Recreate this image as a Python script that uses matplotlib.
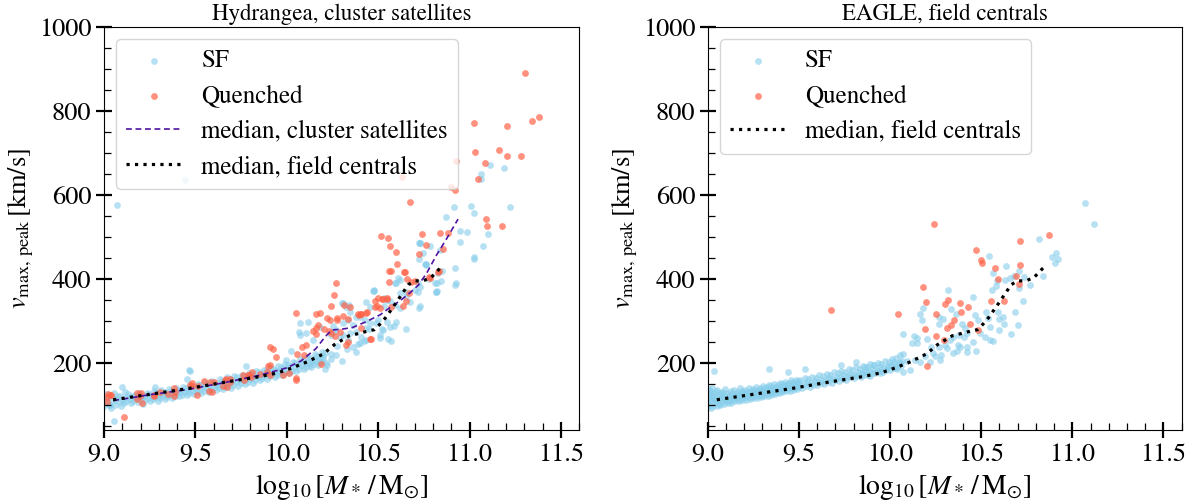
import matplotlib
matplotlib.use("Agg")
import matplotlib.pyplot as plt
from matplotlib.ticker import MultipleLocator

plt.rcParams['font.family'] = 'serif'
plt.rcParams['font.serif'] = ['STIXGeneral', 'Liberation Serif', 'DejaVu Serif']
plt.rcParams['mathtext.fontset'] = 'stix'

# ---------------- data: Hydrangea (left) ----------------
left_band_x = [
    9.000, 9.007, 9.013, 9.020, 9.027, 9.033, 9.040, 9.047, 9.053, 9.060, 9.067, 9.073,
    9.080, 9.087, 9.093, 9.100, 9.107, 9.113, 9.120, 9.127, 9.133, 9.140, 9.147, 9.153,
    9.160, 9.167, 9.173, 9.180, 9.187, 9.193, 9.200, 9.207, 9.213, 9.220, 9.227, 9.233,
    9.240, 9.247, 9.253, 9.260, 9.267, 9.273, 9.280, 9.287, 9.293, 9.300, 9.307, 9.313,
    9.320, 9.327, 9.333, 9.340, 9.347, 9.353, 9.360, 9.367, 9.373, 9.380, 9.387, 9.393,
    9.400, 9.407, 9.413, 9.420, 9.427, 9.433, 9.440, 9.447, 9.453, 9.460, 9.467, 9.473,
    9.480, 9.487, 9.493, 9.500, 9.507, 9.513, 9.520, 9.527, 9.533, 9.540, 9.547, 9.553,
    9.560, 9.567, 9.573, 9.580, 9.587, 9.593, 9.600, 9.607, 9.613, 9.620, 9.627, 9.633,
    9.640, 9.647, 9.653, 9.660, 9.667, 9.673, 9.680, 9.687, 9.693, 9.700, 9.707, 9.713,
    9.720, 9.727, 9.733, 9.740, 9.747, 9.753, 9.760, 9.767, 9.773, 9.780, 9.787, 9.793,
    9.800, 9.807, 9.813, 9.820, 9.827, 9.833, 9.840, 9.847, 9.853, 9.860, 9.867, 9.873,
    9.880, 9.887, 9.893, 9.900, 9.907, 9.913, 9.920, 9.927, 9.933, 9.940, 9.947, 9.953,
    9.960, 9.967, 9.973, 9.980, 9.987, 9.993, 10.000, 10.007, 10.013, 10.020, 10.027, 10.033,
    10.040, 10.047, 10.053, 10.060, 10.067, 10.073, 10.080, 10.087, 10.093, 10.100, 10.107, 10.113,
    10.120, 10.127, 10.133, 10.140, 10.147, 10.153, 10.160, 10.167, 10.173, 10.180, 10.187, 10.193,
    10.200, 10.207, 10.213]
left_band_y = [
    96, 112, 125, 104, 118, 99, 92, 110, 128, 100, 115, 121,
    106, 120, 96, 112, 104, 130, 108, 118, 125, 115, 105, 122,
    110, 124, 117, 118, 107, 128, 113, 121, 102, 120, 111, 129,
    116, 125, 108, 122, 113, 132, 119, 127, 110, 124, 116, 135,
    121, 130, 114, 127, 118, 137, 124, 133, 117, 130, 121, 140,
    127, 136, 120, 133, 124, 143, 130, 139, 123, 136, 127, 147,
    133, 142, 125, 139, 130, 150, 136, 146, 128, 142, 133, 154,
    139, 149, 131, 145, 136, 157, 142, 153, 135, 148, 139, 161,
    146, 157, 138, 152, 143, 165, 150, 161, 141, 156, 147, 168,
    154, 165, 145, 160, 151, 172, 158, 169, 149, 164, 155, 176,
    162, 173, 153, 168, 159, 180, 166, 177, 158, 172, 163, 184,
    170, 181, 162, 176, 168, 188, 175, 185, 166, 181, 172, 192,
    179, 190, 170, 185, 176, 197, 184, 195, 175, 190, 181, 202,
    189, 200, 180, 195, 186, 208, 194, 206, 185, 200, 191, 214,
    199, 211, 190, 205, 196, 220, 204, 217, 195, 211, 202, 226,
    210, 223, 200]

left_sf_x = [
    9.069, 9.444, 9.467, 9.053, 9.027, 9.100, 9.279, 9.453, 9.469, 9.779, 10.070,
    11.112, 11.190, 11.065, 11.060, 10.917, 11.008, 11.223, 11.026, 10.869, 10.950, 10.988,
    11.103, 10.946, 10.723, 11.075, 10.743, 11.022, 10.764, 10.922, 10.849, 10.610, 10.594,
    10.720, 10.810, 10.920, 10.820, 10.474, 10.650, 10.700, 10.307, 10.340,
    11.026, 10.924, 10.819, 10.842, 10.777, 10.830, 10.756, 10.725, 10.730, 10.730, 10.651,
    10.588, 10.572, 10.599, 10.479, 10.500, 10.520, 10.550, 10.452, 10.420, 10.380, 10.390,
    10.327, 10.306, 10.253, 10.274, 10.243, 10.222, 10.210, 10.180, 10.127, 10.148, 10.117,
    10.065, 10.023, 9.997, 10.532, 10.563,
    10.727, 10.782, 10.837, 10.764, 10.596, 10.621, 10.822, 10.727, 10.718, 10.818, 10.475,
    10.530, 10.548, 10.618, 10.654, 10.672, 10.590, 10.618, 10.723, 10.304, 10.326, 10.344,
    10.380, 10.399, 10.426, 10.490, 10.453, 10.435, 10.526, 10.563, 10.508, 10.335, 10.308,
    10.362, 10.253, 10.271, 10.244, 10.289, 10.344, 10.380, 10.408, 10.435, 10.399, 10.362,
    10.335, 10.180, 10.143, 10.107, 10.070, 10.453, 10.435, 10.508, 10.553,
    10.270, 10.300, 10.240, 10.200]
left_sf_y = [
    576, 636, 183, 62, 99, 142, 142, 162, 180, 192, 267,
    671, 663, 649, 638, 572, 573, 572, 557, 546, 514, 512,
    507, 488, 486, 478, 462, 448, 434, 425, 419, 402, 391,
    390, 391, 386, 370, 370, 368, 373, 343, 338,
    451, 389, 369, 395, 399, 413, 434, 446, 486, 336, 281,
    288, 253, 296, 373, 303, 281, 296, 281, 253, 225, 245,
    233, 265, 273, 241, 210, 194, 186, 202, 194, 210, 296,
    273, 229, 207, 336, 348,
    484, 477, 469, 433, 391, 397, 391, 381, 369, 369, 371,
    355, 350, 365, 357, 345, 338, 330, 330, 342, 334, 322,
    310, 310, 302, 294, 294, 282, 278, 286, 266, 302, 294,
    290, 288, 278, 266, 262, 270, 274, 262, 254, 246, 238,
    254, 286, 254, 270, 294, 334, 345, 258, 256,
    218, 205, 222, 215]

left_q_x = [
    11.303, 11.378, 11.340, 11.024, 11.205, 11.030, 11.160, 11.203, 11.280, 11.083, 10.924,
    11.044, 10.630, 10.900, 10.922, 10.676, 11.092, 11.094, 11.180, 10.514, 10.552, 10.738,
    10.836, 10.884, 10.563, 10.760, 10.600, 10.723, 10.857, 10.605, 10.559, 10.570, 10.643,
    10.271, 10.257, 10.660, 10.680, 10.780, 10.830, 10.526, 10.550, 10.480, 10.311,
    10.668, 10.653, 10.559, 10.243, 10.161, 10.180, 10.048, 10.169, 10.220, 10.274, 10.390,
    10.404, 10.438, 10.492, 10.458, 10.337, 10.232, 10.161, 10.144, 10.293, 10.337, 10.266,
    10.106, 10.056, 10.096, 9.909, 9.943, 9.907, 9.809, 9.790, 9.981, 10.048, 10.186,
    9.666, 9.687, 9.600, 9.545, 9.572, 9.515, 9.480, 9.381, 9.352, 9.304, 9.275,
    9.195, 9.210, 9.178, 9.107, 9.021, 9.040, 9.017, 9.650, 9.760, 9.805,
    10.645, 10.700, 10.782, 10.833, 10.202, 10.162, 10.235, 10.275, 10.344, 10.308, 10.395,
    10.408, 10.435, 10.499, 10.523, 10.548, 10.508, 10.481, 10.572, 10.636, 10.463, 10.408,
    10.326, 10.244,
    9.016, 9.035, 9.180, 9.200, 9.272, 9.381, 9.390, 9.469, 9.480, 9.509, 9.582,
    9.590, 9.664, 9.673, 9.691, 9.764, 9.792, 9.856, 9.892, 9.910, 9.897, 9.925,
    10.010, 10.050, 10.085]
left_q_y = [
    890, 786, 776, 771, 764, 701, 707, 692, 692, 676, 681,
    638, 642, 619, 611, 583, 542, 526, 526, 503, 498, 506,
    508, 509, 477, 480, 464, 460, 470, 434, 419, 418, 417,
    389, 361, 399, 393, 404, 415, 353, 352, 348, 338,
    367, 348, 392, 336, 316, 319, 318, 290, 306, 306, 316,
    316, 321, 336, 257, 249, 276, 269, 275, 273, 304, 263,
    243, 220, 219, 237, 213, 195, 178, 170, 172, 164, 198,
    162, 161, 154, 157, 132, 145, 144, 140, 125, 131, 123,
    120, 105, 115, 70, 125, 124, 107, 145, 172, 165,
    417, 395, 403, 419, 280, 282, 302, 302, 334, 311, 314,
    316, 319, 354, 351, 354, 330, 334, 334, 335, 256, 282,
    242, 270,
    119, 123, 127, 129, 120, 120, 131, 147, 151, 123, 155,
    131, 159, 143, 155, 159, 171, 173, 179, 172, 193, 234,
    175, 159, 238]

cluster_med_x = [9.05, 9.25, 9.45, 9.65, 9.85, 10.0, 10.08, 10.16, 10.21, 10.245, 10.30,
                 10.36, 10.435, 10.51, 10.56, 10.62, 10.67, 10.72, 10.765, 10.82, 10.87, 10.937]
cluster_med_y = [110, 124, 136, 152, 170, 188, 205, 234, 262, 278, 280,
                 284, 298, 314, 330, 348, 365, 385, 413, 457, 492, 542]

field_med_x = [9.05, 9.25, 9.45, 9.65, 9.85, 9.95, 10.03, 10.11, 10.20, 10.26, 10.34, 10.43,
               10.48, 10.51, 10.54, 10.59, 10.64, 10.665, 10.70, 10.745, 10.79, 10.82, 10.85]
field_med_y = [112, 125, 138, 153, 167, 176, 188, 202, 221, 243, 264, 274,
               279, 292, 307, 338, 370, 386, 395, 395, 403, 417, 430]

# ---------------- data: EAGLE (right) ----------------
right_band_x = [
    9.000, 9.003, 9.006, 9.002, 9.005, 9.010, 9.013, 9.016, 9.012, 9.020, 9.023, 9.026, 9.022,
    9.030, 9.033, 9.036, 9.040, 9.043, 9.046, 9.050, 9.053, 9.056, 9.052,
    9.060, 9.063, 9.066, 9.070, 9.073, 9.076, 9.080, 9.083, 9.086, 9.090, 9.093, 9.096,
    9.100, 9.103, 9.106, 9.110, 9.113, 9.116, 9.120, 9.123, 9.126, 9.130, 9.133, 9.136,
    9.140, 9.143, 9.146, 9.150, 9.153, 9.156, 9.160, 9.163, 9.166, 9.170, 9.173, 9.176,
    9.180, 9.183, 9.186, 9.190, 9.193, 9.196, 9.200, 9.203, 9.206, 9.210, 9.213, 9.216,
    9.220, 9.223, 9.226, 9.230, 9.233, 9.236, 9.240, 9.243, 9.246, 9.250, 9.253, 9.256,
    9.260, 9.263, 9.266, 9.270, 9.273, 9.276, 9.280, 9.283, 9.286, 9.290, 9.293, 9.296,
    9.300, 9.303, 9.306, 9.310, 9.313, 9.316, 9.320, 9.323, 9.326, 9.330, 9.333, 9.336,
    9.340, 9.343, 9.346, 9.350, 9.353, 9.356, 9.360, 9.363, 9.366, 9.370, 9.373, 9.376,
    9.380, 9.383, 9.386, 9.390, 9.393, 9.396, 9.400, 9.403, 9.406, 9.410, 9.413, 9.416,
    9.420, 9.423, 9.426, 9.430, 9.433, 9.436, 9.440, 9.443, 9.446, 9.450, 9.453, 9.456,
    9.460, 9.463, 9.466, 9.470, 9.473, 9.476, 9.480, 9.483, 9.486, 9.490, 9.493, 9.496,
    9.500, 9.503, 9.506,
    9.520, 9.527, 9.533, 9.540, 9.547, 9.553, 9.560, 9.567, 9.573, 9.580, 9.587, 9.593,
    9.600, 9.607, 9.613, 9.620, 9.627, 9.633, 9.640, 9.647, 9.653, 9.660, 9.667, 9.673,
    9.680, 9.687, 9.693, 9.700, 9.707, 9.713, 9.720, 9.727, 9.733, 9.740, 9.747, 9.753,
    9.760, 9.767, 9.773, 9.780, 9.787, 9.793, 9.800, 9.807, 9.813, 9.820, 9.827, 9.833,
    9.840, 9.847, 9.853, 9.860, 9.867, 9.873, 9.880, 9.887, 9.893, 9.900, 9.907, 9.913,
    9.920, 9.927, 9.933, 9.940, 9.947, 9.953, 9.960, 9.967, 9.973, 9.980, 9.987, 9.993,
    10.000, 10.007, 10.013, 10.020, 10.027, 10.033, 10.040, 10.047, 10.053, 10.060, 10.067, 10.073]
right_band_y = [
    95, 105, 118, 128, 138, 100, 112, 124, 133, 92, 108, 120, 140,
    98, 115, 127, 104, 118, 132, 96, 110, 122, 136,
    102, 114, 128, 99, 120, 131, 106, 116, 126, 101, 112, 137,
    108, 119, 129, 104, 115, 124, 110, 121, 133, 105, 117, 128,
    112, 122, 136, 108, 118, 127, 113, 124, 131, 110, 120, 139,
    114, 125, 132, 111, 121, 129, 116, 126, 136, 112, 122, 131,
    118, 127, 140, 114, 124, 133, 119, 129, 137, 116, 125, 134,
    120, 131, 143, 117, 127, 136, 122, 132, 140, 119, 128, 137,
    123, 133, 145, 120, 130, 139, 125, 135, 142, 122, 131, 148,
    127, 137, 144, 124, 134, 141, 129, 138, 150, 126, 136, 143,
    131, 140, 147, 128, 137, 152, 133, 142, 149, 130, 139, 146,
    135, 144, 155, 132, 141, 150, 137, 146, 153, 134, 143, 158,
    139, 148, 155, 136, 145, 152, 141, 150, 160, 138, 147, 156,
    143, 152, 159,
    140, 149, 163, 145, 154, 161, 142, 151, 167, 148, 157, 164,
    146, 155, 170, 151, 160, 168, 149, 158, 173, 155, 164, 171,
    153, 162, 177, 158, 167, 175, 156, 165, 181, 161, 171, 179,
    160, 169, 186, 165, 174, 183, 163, 172, 190, 168, 178, 186,
    167, 176, 193, 172, 181, 190, 171, 180, 197, 176, 185, 194,
    175, 184, 200, 180, 189, 198, 179, 188, 205, 184, 193, 203,
    183, 195, 210, 188, 198, 212, 186, 201, 218, 192, 205, 220]

right_sf_x = [
    9.033, 9.334, 9.533, 9.443, 9.815, 9.734,
    11.068, 11.119, 10.816, 10.909, 10.890, 10.920, 10.905, 10.838, 10.541, 10.638, 10.565,
    10.710, 10.733, 10.766, 10.630, 10.656, 10.680, 10.587, 10.580, 10.560, 10.710, 10.727,
    10.320, 10.455, 10.180, 10.166, 10.176, 10.270, 10.290, 10.270, 10.337, 10.360,
    10.466, 10.485, 10.527, 10.536, 10.590, 10.596, 10.622, 10.626, 10.598, 10.686, 10.702,
    10.662, 10.547, 10.521, 10.549, 10.567, 10.495, 10.457, 10.470, 10.420, 10.371, 10.366,
    10.314, 10.393, 10.411, 10.424, 10.380,
    10.070, 10.130, 10.150, 10.120, 10.150, 10.201, 10.225, 10.270, 10.281, 10.238, 10.247,
    10.192, 10.165, 10.137, 10.092, 10.055, 10.018, 9.991, 9.945, 9.908, 9.863, 9.854,
    9.890, 10.037, 10.073, 10.110, 10.219, 10.274, 10.302, 10.329, 10.347, 10.406, 10.384,
    10.347, 10.421]
right_sf_y = [
    180, 186, 186, 178, 202, 194,
    580, 530, 495, 461, 452, 446, 437, 406, 455, 430, 414,
    418, 405, 386, 398, 401, 406, 395, 383, 374, 378, 346,
    374, 356, 331, 317, 302, 310, 304, 293, 328, 316,
    314, 302, 320, 306, 322, 304, 310, 292, 277, 320, 289,
    269, 286, 262, 254, 253, 270, 250, 228, 238, 242, 229,
    236, 292, 284, 270, 266,
    269, 263, 259, 248, 248, 256, 238, 238, 219, 223, 215,
    215, 203, 207, 204, 200, 203, 191, 176, 195, 191, 175,
    169, 191, 179, 184, 203, 207, 242, 254, 262, 262, 238,
    223, 226]

right_q_x = [10.241, 10.713, 10.870, 10.470, 10.500, 10.507, 10.574, 10.715, 10.590, 10.693,
             10.706, 10.183, 10.197, 10.044, 10.318, 10.300, 10.384, 10.430, 10.390, 10.254,
             10.351, 10.337, 10.310, 10.193, 10.439, 10.485, 10.556, 10.627, 10.254, 10.298,
             10.203, 9.679]
right_q_y = [530, 490, 504, 469, 445, 437, 426, 433, 400, 407,
             387, 380, 345, 317, 350, 340, 343, 333, 322, 315,
             301, 289, 284, 281, 292, 279, 347, 348, 263, 254,
             193, 326]

assert len(left_band_x) == len(left_band_y)
assert len(left_sf_x) == len(left_sf_y)
assert len(left_q_x) == len(left_q_y)
assert len(right_band_x) == len(right_band_y)
assert len(right_sf_x) == len(right_sf_y)
assert len(right_q_x) == len(right_q_y)

# ---------------- style ----------------
SF_COLOR = 'skyblue'
Q_COLOR = 'tomato'
CLUSTER_COLOR = '#4f13a0'
MS = 24

fig = plt.figure(figsize=(11.98, 5.04), dpi=100)
ax1 = fig.add_axes([0.0868, 0.1468, 0.3967, 0.8002])
ax2 = fig.add_axes([0.5907, 0.1468, 0.3957, 0.8002])


def style_axes(ax, title):
    ax.set_xlim(9.0, 11.6)
    ax.set_ylim(40, 1000)
    ax.xaxis.set_major_locator(MultipleLocator(0.5))
    ax.xaxis.set_minor_locator(MultipleLocator(0.1))
    ax.yaxis.set_major_locator(MultipleLocator(200))
    ax.yaxis.set_minor_locator(MultipleLocator(50))
    ax.tick_params(which='major', direction='inout', length=11, width=1.6,
                   labelsize=19, top=False, right=False)
    ax.tick_params(which='minor', direction='in', length=5, width=0.9,
                   top=False, right=False)
    ax.set_xticks([9.0, 9.5, 10.0, 10.5, 11.0, 11.5])
    ax.set_xticklabels(['9.0', '9.5', '10.0', '10.5', '11.0', '11.5'])
    ax.set_xlabel(r'$\log_{10}\left[M_*\,/\,\mathrm{M}_{\odot}\right]$', fontsize=20)
    ax.set_ylabel(r'$v_{\mathrm{max,\,peak}}\,\left[\mathrm{km/s}\right]$', fontsize=19,
                  labelpad=2)
    ax.set_title(title, fontsize=16.5, pad=5)


# left panel
ax1.scatter(left_band_x + left_sf_x, left_band_y + left_sf_y, s=MS, color=SF_COLOR,
            alpha=0.6, linewidths=0, label='SF')
ax1.scatter(left_q_x, left_q_y, s=MS, color=Q_COLOR, alpha=0.7, linewidths=0,
            label='Quenched')
ax1.plot(cluster_med_x, cluster_med_y, color=CLUSTER_COLOR, lw=1.2,
         linestyle=(0, (3.5, 2.2)), label='median, cluster satellites')
ax1.plot(field_med_x, field_med_y, color='black', lw=2.3, linestyle=':',
         label='median, field centrals')
style_axes(ax1, 'Hydrangea, cluster satellites')
ax1.legend(loc='upper left', fontsize=18, scatterpoints=1, handlelength=2.2,
           labelspacing=0.45)

# right panel
ax2.scatter(right_band_x + right_sf_x, right_band_y + right_sf_y, s=MS, color=SF_COLOR,
            alpha=0.6, linewidths=0, label='SF')
ax2.scatter(right_q_x, right_q_y, s=MS, color=Q_COLOR, alpha=0.7, linewidths=0,
            label='Quenched')
ax2.plot(field_med_x, field_med_y, color='black', lw=2.3, linestyle=':',
         label='median, field centrals')
style_axes(ax2, 'EAGLE, field centrals')
ax2.legend(loc='upper left', fontsize=18, scatterpoints=1, handlelength=2.2,
           labelspacing=0.45)

fig.savefig('out.png', dpi=100)
